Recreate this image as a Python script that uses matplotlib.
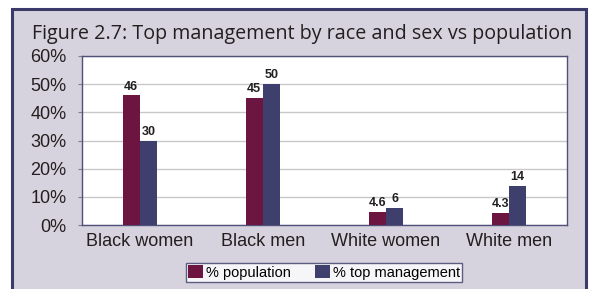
import numpy as np
import matplotlib
matplotlib.use('Agg')
import matplotlib.pyplot as plt
from matplotlib.patches import Rectangle

categories = ['Black women', 'Black men', 'White women', 'White men']
pct_population = [46, 45, 4.6, 4.3]
pct_top_mgmt = [30, 50, 6, 14]
labels_population = ['46', '45', '4.6', '4.3']
labels_top_mgmt = ['30', '50', '6', '14']
series_names = ['% population', '% top management']
title = 'Figure 2.7: Top management by race and sex vs population'

maroon = '#6b1540'
navy = '#3e3f6c'
frame_col = '#3b3b6a'
bg = '#d6d3de'

fig = plt.figure(figsize=(5.89, 2.89), dpi=100)
fig.patch.set_facecolor('white')

# outer panel with thick navy frame (bottom runs off the image)
fig.patches.append(Rectangle((11.5/589, -0.05), (586-11.5)/589, 1 - 9/289 + 0.05,
                             transform=fig.transFigure, facecolor=bg,
                             edgecolor=frame_col, linewidth=2.2, zorder=-1))

fig.text(32/589, 1 - 33.5/289, title, fontsize=14.2, family='Open Sans',
         color='#231f20', va='center', ha='left')

ax = fig.add_axes([82/589, 1 - 225/289, (567-82)/589, (225-56)/289])
ax.set_facecolor('white')

x = np.arange(len(categories))
w = 0.142
b1 = ax.bar(x - w/2, pct_population, w, color=maroon, label=series_names[0], zorder=3)
b2 = ax.bar(x + w/2, pct_top_mgmt, w, color=navy, label=series_names[1], zorder=3)

vfont = dict(family=['Liberation Sans Narrow', 'Liberation Sans'], fontsize=9,
             fontweight='bold', color='#231f20')
for bars, labs in ((b1, labels_population), (b2, labels_top_mgmt)):
    for r, t in zip(bars, labs):
        ax.annotate(t, (r.get_x() + r.get_width()/2, r.get_height()),
                    xytext=(0, 2), textcoords='offset points',
                    ha='center', va='bottom', **vfont)

ax.set_xlim(-0.4715, len(categories) - 0.5285)
ax.set_ylim(0, 60)
ax.set_yticks(np.arange(0, 61, 10))
ax.set_yticklabels([f'{v}%' for v in range(0, 61, 10)])
ax.set_xticks(x)
ax.set_xticklabels(categories)
ax.yaxis.grid(True, color='#c8c8c8', linewidth=1, zorder=0)
ax.set_axisbelow(True)

for s in ax.spines.values():
    s.set_color('#50507a')
    s.set_linewidth(1)

ax.tick_params(axis='y', length=3, color='#808080', pad=8, labelsize=13,
               labelcolor='#231f20')
ax.tick_params(axis='x', length=0, pad=6, labelsize=13, labelcolor='#231f20')
for lab in ax.get_xticklabels() + ax.get_yticklabels():
    lab.set_family('Liberation Sans')

leg = fig.legend(loc='center', bbox_to_anchor=(324/589, 1 - 272.5/289), ncol=2,
                 prop={'family': 'Liberation Sans', 'size': 10.5},
                 frameon=True, fancybox=False, handlelength=1.0, handleheight=1.0,
                 handletextpad=0.2, columnspacing=1.7, borderpad=0.15,
                 borderaxespad=0)
leg.get_frame().set_edgecolor(frame_col)
leg.get_frame().set_linewidth(1)
leg.get_frame().set_facecolor('white')

fig.savefig('out.png', dpi=100, facecolor=fig.get_facecolor())
